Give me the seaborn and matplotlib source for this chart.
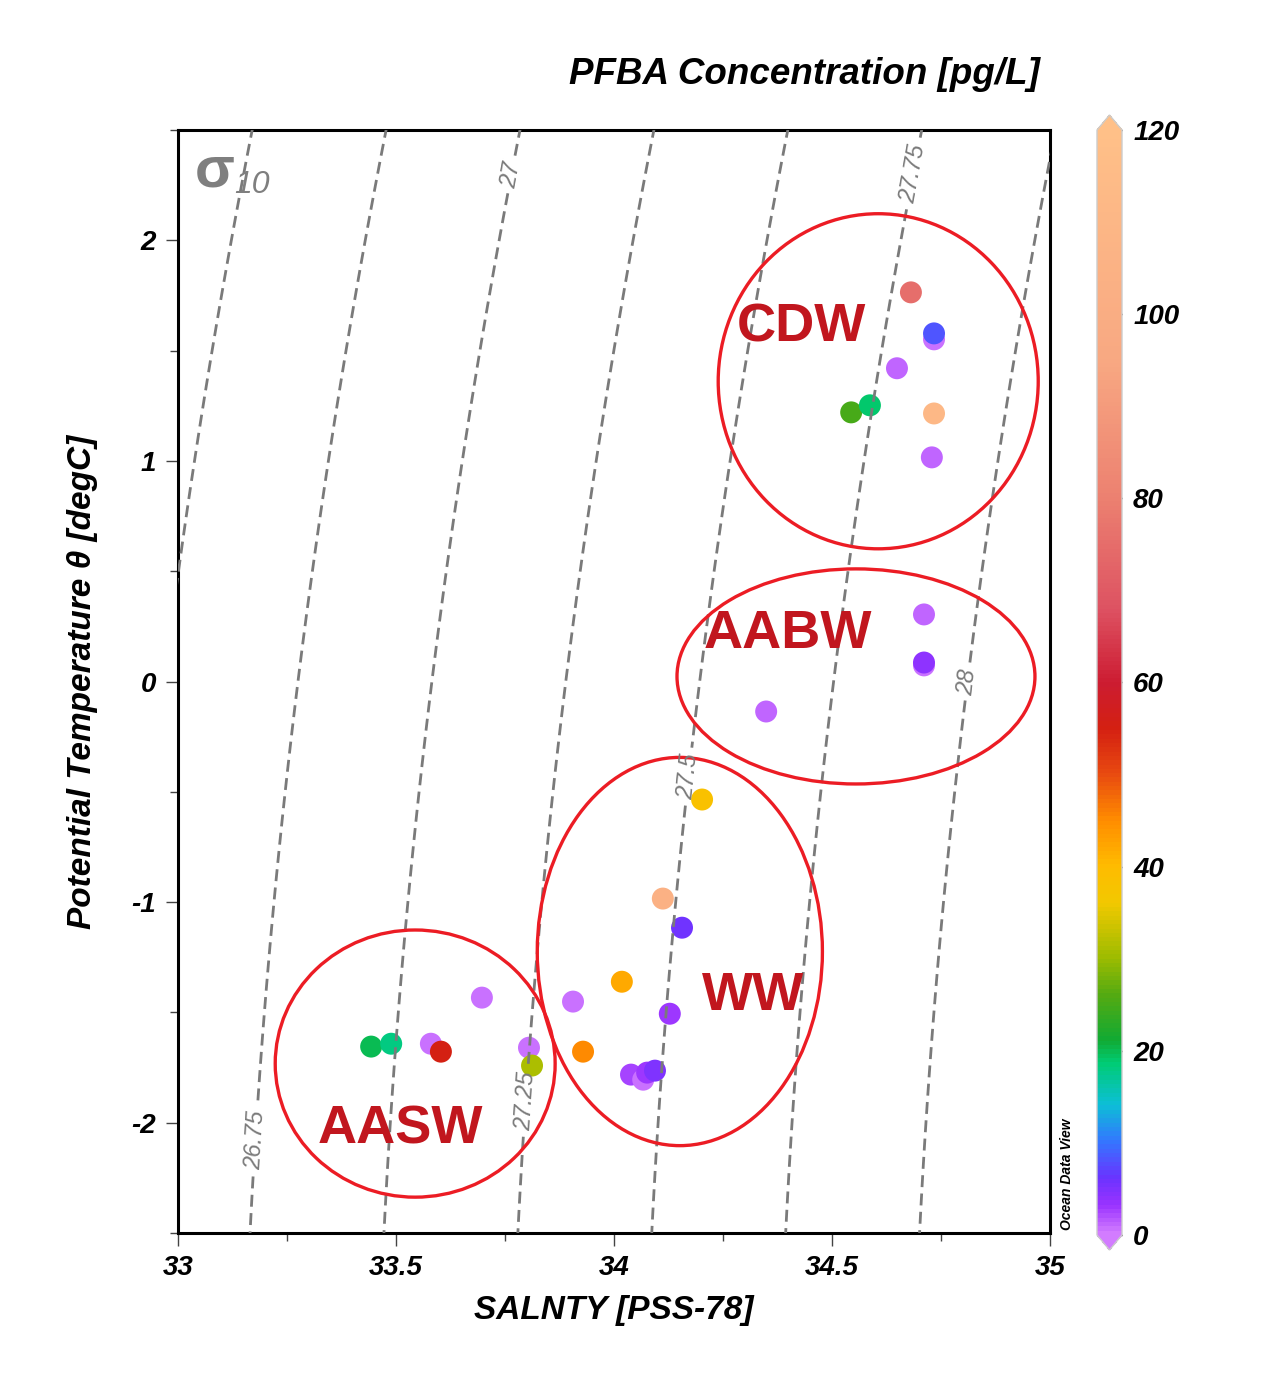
import numpy as np
import pandas as pd
import seaborn as sns
import matplotlib.pyplot as plt
import matplotlib as mpl
from matplotlib.colors import LinearSegmentedColormap, Normalize
from matplotlib.patches import Ellipse

# --- data ---
salinity = [34.681, 34.734, 34.734, 34.649, 34.544, 34.587, 34.734, 34.729,
            34.711, 34.711, 34.711, 34.349,
            34.202, 34.112, 34.156, 34.018, 33.906, 34.128, 33.929,
            34.039, 34.067, 34.076, 34.094,
            33.697, 33.443, 33.489, 33.580, 33.603, 33.805, 33.812]
theta = [1.764, 1.551, 1.578, 1.420, 1.220, 1.252, 1.215, 1.016,
         0.304, 0.073, 0.086, -0.136,
         -0.535, -0.984, -1.116, -1.361, -1.451, -1.506, -1.678,
         -1.782, -1.805, -1.773, -1.764,
         -1.433, -1.655, -1.642, -1.642, -1.678, -1.660, -1.741]
pfba = [75, 0.5, 8, 1, 25, 19, 112, 1,
        1, 0.5, 4, 1,
        38, 104, 6, 42, 0.5, 3, 45,
        2.5, 0.5, 3, 5,
        0.5, 20, 18, 0.5, 55, 0.5, 31]

# water mass ellipses: name, centre S, centre theta, width (psu), height (degC), label S, label theta
mass_names = ['CDW', 'AABW', 'WW', 'AASW']
mass_s = [34.606, 34.555, 34.151, 33.544]
mass_t = [1.361, 0.023, -1.224, -1.732]
mass_w = [0.734, 0.821, 0.654, 0.642]
mass_h = [1.519, 0.975, 1.760, 1.211]
label_s = [34.43, 34.40, 34.32, 33.51]
label_t = [1.605, 0.214, -1.426, -2.033]

# sigma-10 isopycnals (approximate EOS fitted to the picture)
sig_plain = [26.5]
sig_levels = [26.75, 27.0, 27.25, 27.5, 27.75, 28.0]
sig_label_pos = [(33.17, -2.08), (33.757, 2.30), (33.789, -1.90),
                 (34.165, -0.43), (34.69, 2.30), (34.805, 0.0)]
eos_sig0, eos_beta, eos_a1, eos_a2 = 27.34, 0.814, 0.0508, 0.006

# colour scale anchors
cb_vals = [0, 3, 6, 10, 14, 18.5, 21, 26, 30, 36, 40, 45, 50, 55, 60, 68, 80, 95, 120]
cb_cols = ['#d27cff', '#9a33ff', '#6a33ff', '#3377ff', '#0cbfd6', '#00cc74', '#11aa33',
           '#55aa11', '#9dbc00', '#f2c800', '#ffbb00', '#ff8c00', '#e84a10', '#d42012',
           '#cc1c32', '#dd5262', '#ec8070', '#f8a882', '#ffc088']
cmap = LinearSegmentedColormap.from_list(
    'odv', list(zip(np.array(cb_vals) / 120.0, cb_cols)))
norm = Normalize(0, 120)

df = pd.DataFrame({'S': salinity, 'T': theta, 'PFBA': pfba})

sns.set_style('ticks')
plt.rcParams['font.family'] = ['Liberation Sans', 'DejaVu Sans']
plt.rcParams['axes.unicode_minus'] = False
plt.rcParams['text.color'] = 'black'
plt.rcParams['axes.labelcolor'] = 'black'
plt.rcParams['xtick.labelcolor'] = 'black'
plt.rcParams['ytick.labelcolor'] = 'black'

fig = plt.figure(figsize=(12.68, 13.81), dpi=100)
ax = fig.add_axes([178 / 1268, 1 - 1233 / 1381, 872 / 1268, 1103 / 1381])

sns.scatterplot(data=df, x='S', y='T', hue='PFBA', palette=cmap, hue_norm=norm,
                s=250, edgecolor='none', linewidth=0, legend=False, ax=ax, zorder=2)

# isopycnals
sg, tg = np.meshgrid(np.linspace(32.9, 35.1, 300), np.linspace(-2.6, 2.6, 300))
sig = eos_sig0 + eos_beta * (sg - 34) - eos_a1 * tg - eos_a2 * tg ** 2
dash = (0, (4.3, 2.3))
ax.contour(sg, tg, sig, levels=sig_plain, colors='#7a7a7a', linewidths=2.0,
           linestyles=[dash], zorder=3)
cs = ax.contour(sg, tg, sig, levels=sig_levels, colors='#7a7a7a', linewidths=2.0,
                linestyles=[dash] * len(sig_levels), zorder=3)
lbls = ax.clabel(cs, inline=True, fontsize=17, colors='#7a7a7a',
                 fmt=lambda v: f'{v:g}', manual=sig_label_pos, inline_spacing=5)
for t in lbls:
    t.set_fontstyle('italic')

for n, s0, t0, w, h, ls, lt in zip(mass_names, mass_s, mass_t, mass_w, mass_h, label_s, label_t):
    ax.add_patch(Ellipse((s0, t0), w, h, fill=False, edgecolor='#ec1c24', lw=2.4, zorder=4))
    ax.text(ls, lt, n, color='#c1161e', fontsize=39, fontweight='bold',
            ha='center', va='center', zorder=5)

ax.text(0.019, 0.962, 'σ', transform=ax.transAxes, color='#7f7f7f', fontsize=42,
        fontweight='bold', va='center', ha='left')
ax.text(0.064, 0.950, '10', transform=ax.transAxes, color='#7f7f7f', fontsize=23,
        fontstyle='italic', va='center', ha='left')

ax.set_xlim(33, 35)
ax.set_ylim(-2.5, 2.5)
ax.set_xticks([33, 33.5, 34, 34.5, 35])
ax.set_xticklabels(['33', '33.5', '34', '34.5', '35'])
ax.set_xticks(np.arange(33.25, 35, 0.5), minor=True)
ax.set_yticks([-2, -1, 0, 1, 2])
ax.set_yticklabels(['-2', '-1', '0', '1', '2'])
ax.set_yticks(np.arange(-2.5, 2.6, 1.0), minor=True)
for sp in ax.spines.values():
    sp.set_linewidth(2.2)
    sp.set_color('black')
ax.tick_params(which='major', direction='out', length=9, width=1, color='#444444', pad=7)
ax.tick_params(which='minor', direction='out', length=6, width=1, color='#444444')
for lab in ax.get_xticklabels() + ax.get_yticklabels():
    lab.set_fontsize(20)
    lab.set_fontweight('bold')
    lab.set_fontstyle('italic')
ax.set_xlabel('SALNTY [PSS-78]', fontsize=24, fontweight='bold', fontstyle='italic', labelpad=10)
ax.set_ylabel('Potential Temperature θ [degC]', fontsize=24, fontweight='bold',
              fontstyle='italic', labelpad=24)

ax.text(1.02, 0.003, 'Ocean Data View', transform=ax.transAxes, rotation=90, fontsize=10,
        fontweight='bold', fontstyle='italic', ha='center', va='bottom')

# colour bar
cax = fig.add_axes([1097 / 1268, 1 - 1250 / 1381, 25 / 1268, 1135 / 1381])
sm = mpl.cm.ScalarMappable(norm=norm, cmap=cmap)
cb = fig.colorbar(sm, cax=cax, extend='both', extendfrac=15 / 1103, ticks=[0, 20, 40, 60, 80, 100, 120])
cb.outline.set_edgecolor('#cccccc')
cb.outline.set_linewidth(1)
cax.tick_params(direction='in', length=4, width=1, color='black', left=True, right=True, pad=8)
for lab in cax.get_yticklabels():
    lab.set_fontsize(20)
    lab.set_fontweight('bold')
    lab.set_fontstyle('italic')

fig.text(1040 / 1268, 1 - 74 / 1381, 'PFBA Concentration [pg/L]', fontsize=26.5,
         fontweight='bold', fontstyle='italic', ha='right', va='center')

fig.savefig('out.png', dpi=100)
